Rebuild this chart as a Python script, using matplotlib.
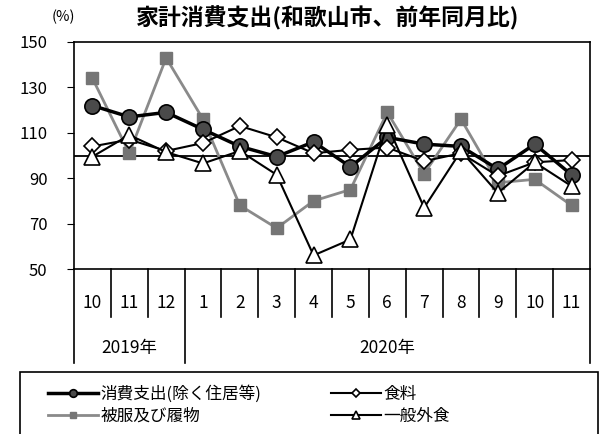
import numpy as np
import matplotlib.pyplot as plt
from matplotlib.patches import Rectangle
import matplotlib.transforms as mtransforms

plt.rcParams['font.family'] = ['Noto Sans CJK JP', 'DejaVu Sans']

# 前年同月比(%)
months = ['10', '11', '12', '1', '2', '3', '4', '5', '6', '7', '8', '9', '10', '11']
years = ['2019年', '2020年']
year_span = [(0, 3), (3, 14)]

shouhi = [122, 117, 119, 111.5, 104, 99.5, 106, 95, 108, 105, 104, 94, 105, 91.5]
shokuryo = [104, 107, 102, 105.5, 113, 108, 101, 102.5, 103.5, 97.5, 101, 91, 97, 98]
hifuku = [134, 101, 143, 116, 78, 68, 80, 85, 119, 92, 116, 88, 89.5, 78]
gaishoku = [99.5, 109, 101.5, 96.5, 102, 91.5, 56, 63, 113.5, 77, 102, 83.5, 97, 86.5]

labels = ['消費支出(除く住居等)', '被服及び履物', '食料', '一般外食']

fig = plt.figure(figsize=(6.02, 4.34), dpi=100)
ax = fig.add_axes([74 / 602, 1 - 269 / 434, 516 / 602, 227 / 434])
x = np.arange(len(months))

ax.axhline(100, color='black', lw=1.3, zorder=1)
l2, = ax.plot(x, hifuku, color='#8a8a8a', lw=2, marker='s', ms=8,
              mfc='#757575', mec='#757575', zorder=2)
l1, = ax.plot(x, shouhi, color='black', lw=2.5, marker='o', ms=11,
              mfc='#4a4a4a', mec='black', mew=1.2, zorder=3)
l3, = ax.plot(x, shokuryo, color='black', lw=1.5, marker='D', ms=8,
              mfc='white', mec='black', mew=1.2, zorder=4)
l4, = ax.plot(x, gaishoku, color='black', lw=1.5, marker='^', ms=11,
              mfc='white', mec='black', mew=1.2, zorder=5)

ax.set_xlim(-0.5, len(months) - 0.5)
ax.set_ylim(50, 150)
ax.set_yticks(range(50, 151, 20))
ax.tick_params(axis='y', direction='out', length=5, pad=14, labelsize=12)
ax.tick_params(axis='x', bottom=False, labelbottom=False)
for s in ax.spines.values():
    s.set_color('black')
    s.set_linewidth(1.2)

# 月・年の区切り
trans = mtransforms.blended_transform_factory(ax.transData, ax.transAxes)
for i, m in enumerate(months):
    ax.text(i, -0.15, m, transform=trans, ha='center', va='center', fontsize=12.5)
for i in range(1, len(months)):
    if i != 3:
        ax.plot([i - 0.5, i - 0.5], [0, -0.212], transform=trans, color='black',
                lw=1.2, clip_on=False)
for (a, b), y in zip(year_span, years):
    ax.text((a + b - 1) / 2, -0.348, y, transform=trans, ha='center', va='center',
            fontsize=12.5)
for e in (-0.5, 2.5, 13.5):
    ax.plot([e, e], [0, -0.414], transform=trans, color='black', lw=1.2,
            clip_on=False)

fig.text(63 / 602, 1 - 17 / 434, '(%)', ha='center', va='center', fontsize=10.5)
fig.text(328 / 602, 1 - 18 / 434, '家計消費支出(和歌山市、前年同月比)',
         ha='center', va='center', fontsize=16.5, fontweight='bold')

# 凡例
fig.patches.append(Rectangle((20 / 602, -0.05), 578 / 602, 1 - 372 / 434 + 0.05,
                             transform=fig.transFigure, fill=False,
                             edgecolor='black', lw=1.2))
fig.legend([l1, l2, l3, l4], labels, ncol=2, loc='upper left',
           bbox_to_anchor=(36 / 602, 1 - 374 / 434), frameon=False,
           fontsize=12, handlelength=3.0, handletextpad=0.15,
           columnspacing=4.2, labelspacing=0.25, markerscale=0.5,
           borderpad=0.2)

fig.savefig('out.png', dpi=100)
